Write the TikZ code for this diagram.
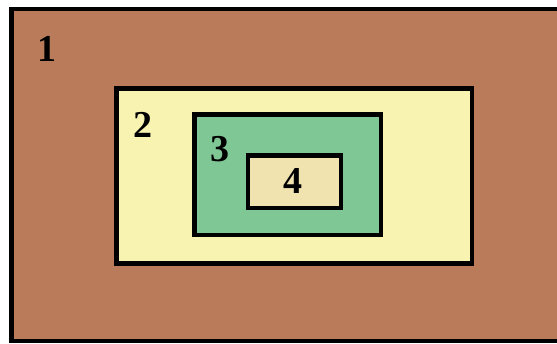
\documentclass[tikz,border=0pt]{standalone}
\usepackage{fontspec}
\setmainfont{Liberation Serif}
\definecolor{brownfill}{HTML}{B97B5A}
\definecolor{yellowfill}{HTML}{F9F3B1}
\definecolor{greenfill}{HTML}{7FC896}
\definecolor{creamfill}{HTML}{F0E3B0}
\tikzset{
  box/.style={draw=black, line width=4.4pt},
  lab/.style={font=\fontsize{38}{40}\selectfont\bfseries, inner sep=0pt, anchor=center}
}
\begin{document}
\begin{tikzpicture}[x=1pt,y=-1pt]
\useasboundingbox (0,0) rectangle (557,343);
\fill[white] (0,0) rectangle (557,343);
\draw[box, fill=brownfill] (11.5,8.8) rectangle (580,341);
\draw[box, fill=yellowfill] (116.5,88.5) rectangle (472.2,263.3);
\draw[box, fill=greenfill] (194.5,114.5) rectangle (381.2,234.8);
\draw[box, fill=creamfill] (247.8,155.5) rectangle (341.2,207.8);
\node[lab] (n1) at (46.5,49) {1};
\node[lab] (n2) at (143,125) {2};
\node[lab] (n3) at (219.5,149) {3};
\node[lab] (n4) at (293,181) {4};
\end{tikzpicture}
\end{document}
